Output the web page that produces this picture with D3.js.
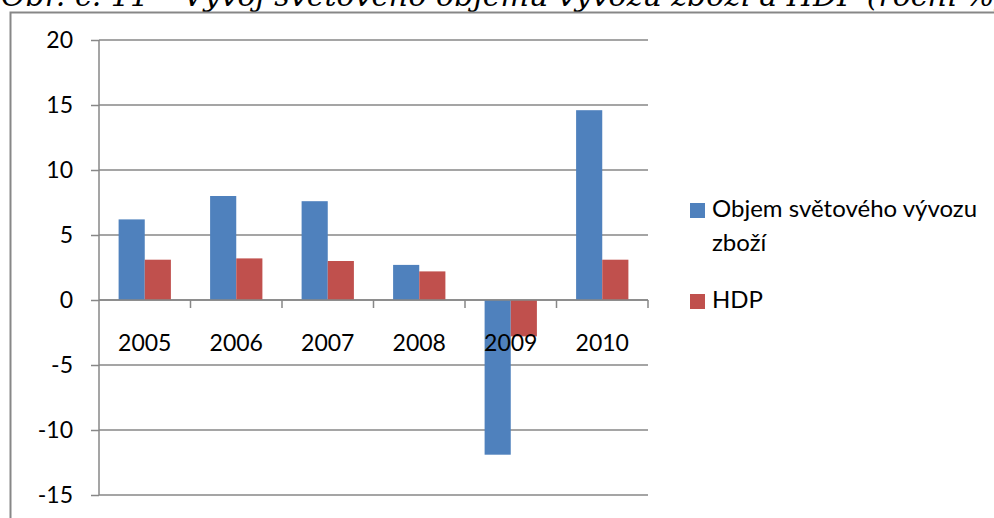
<!DOCTYPE html>
<html>
<head>
<meta charset="utf-8">
<script src="https://cdn.jsdelivr.net/npm/d3@7"></script>
<style>
  body { margin: 0; background: #fff; overflow: hidden; }
  svg { display: block; }
</style>
</head>
<body>
<svg width="994" height="518"></svg>
<script>
const svg = d3.select('svg')
const width = +svg.attr('width')
const height = +svg.attr('height')

const years = ['2005', '2006', '2007', '2008', '2009', '2010']
const exportVolume = [6.2, 8.0, 7.6, 2.7, -11.9, 14.6]
const gdp = [3.1, 3.2, 3.0, 2.2, -2.8, 3.1]
const seriesNames = ['Objem světového vývozu zboží', 'HDP']
const yTicks = [-15, -10, -5, 0, 5, 10, 15, 20]

const colors = ['#4f81bd', '#c0504d']
const font = 'Lato, "Liberation Sans", sans-serif'
const gray = '#878787'

const margin = { left: 99, right: 346, top: 40, bottom: 23 }

const table = years.map((y, i) => ({ year: y, values: [exportVolume[i], gdp[i]] }))

// title, mostly cut off at the top like the original
svg.append('text')
  .attr('x', 1)
  .attr('y', 6)
  .attr('font-family', '"DejaVu Serif", serif')
  .attr('font-style', 'italic')
  .attr('font-size', 30)
  .attr('fill', '#000')
  .text('Obr. č. 11 – Vývoj světového objemu vývozu zboží a HDP (roční %)')

// chart frame
svg.append('path')
  .attr('d', `M10.5,${height + 2} V12.5 H${width + 2}`)
  .attr('fill', 'none')
  .attr('stroke', gray)
  .attr('stroke-width', 2)

const x = d3.scaleBand()
  .domain(years)
  .range([margin.left, width - margin.right])

const inner = d3.scaleBand()
  .domain([0, 1])
  .range([0, x.bandwidth()])
  .paddingInner(0)
  .paddingOuter(0.75)

const y = d3.scaleLinear()
  .domain([-15, 20])
  .range([height - margin.bottom, margin.top])

// gridlines + y axis
const yAxis = svg.append('g')
  .attr('transform', `translate(${margin.left},0)`)
  .call(d3.axisLeft(y).tickValues(yTicks).tickSize(8).tickPadding(18)
    .tickFormat(d => String(d)))

yAxis.select('.domain').remove()
yAxis.selectAll('.tick line').attr('stroke', gray).attr('stroke-width', 1.5)
yAxis.selectAll('.tick text')
  .attr('font-family', font)
  .attr('font-size', 23)
  .attr('fill', '#000')

svg.append('g')
  .selectAll('line')
  .data(yTicks)
  .join('line')
  .attr('x1', margin.left)
  .attr('x2', width - margin.right)
  .attr('y1', d => y(d))
  .attr('y2', d => y(d))
  .attr('stroke', gray)
  .attr('stroke-width', 1.5)

svg.append('line')
  .attr('x1', margin.left)
  .attr('x2', margin.left)
  .attr('y1', y(20))
  .attr('y2', y(-15))
  .attr('stroke', gray)
  .attr('stroke-width', 1.5)

// bars
const groups = svg.append('g')
  .selectAll('g')
  .data(table)
  .join('g')
  .attr('transform', d => `translate(${x(d.year)},0)`)

groups.selectAll('rect')
  .data(d => d.values)
  .join('rect')
  .attr('x', (d, i) => inner(i))
  .attr('width', inner.bandwidth())
  .attr('y', d => y(Math.max(0, d)))
  .attr('height', d => Math.abs(y(d) - y(0)))
  .attr('fill', (d, i) => colors[i])

// category axis at zero
const boundaries = years.map(yr => x(yr)).concat([x.range()[1]])
svg.append('line')
  .attr('x1', margin.left)
  .attr('x2', width - margin.right)
  .attr('y1', y(0))
  .attr('y2', y(0))
  .attr('stroke', gray)
  .attr('stroke-width', 1.5)

svg.append('g')
  .selectAll('line')
  .data(boundaries.slice(1))
  .join('line')
  .attr('x1', d => d)
  .attr('x2', d => d)
  .attr('y1', y(0))
  .attr('y2', y(0) + 8)
  .attr('stroke', gray)
  .attr('stroke-width', 1.5)

svg.append('g')
  .selectAll('text')
  .data(years)
  .join('text')
  .attr('x', d => x(d) + x.bandwidth() / 2)
  .attr('y', y(0) + 51)
  .attr('text-anchor', 'middle')
  .attr('font-family', font)
  .attr('font-size', 23)
  .attr('fill', '#000')
  .text(d => d)

// legend
const legend = svg.append('g').attr('transform', 'translate(690,0)')
const legendRows = [
  { lines: ['Objem světového vývozu', 'zboží'], y: 217 },
  { lines: ['HDP'], y: 308 }
]

legendRows.forEach((row, i) => {
  legend.append('rect')
    .attr('x', 0)
    .attr('y', row.y - 14)
    .attr('width', 15)
    .attr('height', 15)
    .attr('fill', colors[i])
  legend.append('text')
    .attr('font-family', font)
    .attr('font-size', 24)
    .attr('fill', '#000')
    .selectAll('tspan')
    .data(row.lines)
    .join('tspan')
    .attr('x', 22)
    .attr('y', (d, j) => row.y + j * 34)
    .text(d => d)
})
</script>
</body>
</html>
